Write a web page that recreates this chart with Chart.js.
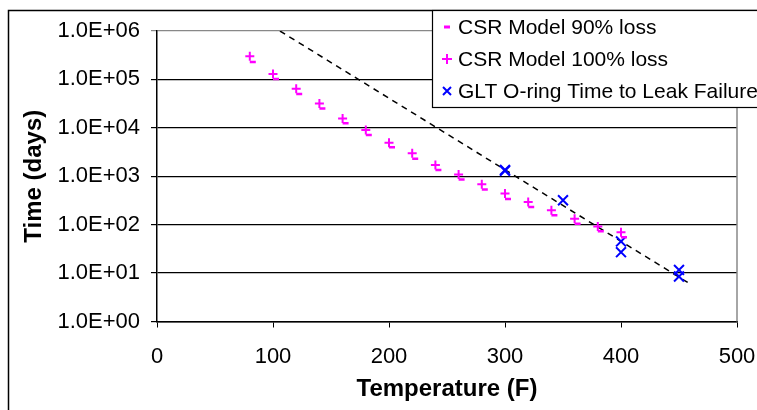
<!DOCTYPE html>
<html>
<head>
<meta charset="utf-8">
<script src="https://cdn.jsdelivr.net/npm/chart.js@4/dist/chart.umd.min.js"></script>
<style>
  html, body { margin: 0; padding: 0; background: #fff; }
  #chart { display: block; }
</style>
</head>
<body>
<canvas id="chart" width="757" height="410"></canvas>
<script>
// Data --------------------
const temps = [80, 100, 120, 140, 160, 180, 200, 220, 240, 260, 280, 300, 320, 340, 360, 380, 400];
const csr90 = [2.3e5, 1.02e5, 5.0e4, 2.5e4, 1.24e4, 7.1e3, 3.96e3, 2.3e3, 1.34e3, 859, 532, 340, 232, 156, 105, 73, 55];
const csr100 = [3.0e5, 1.3e5, 6.4e4, 3.2e4, 1.55e4, 9.0e3, 4.9e3, 2.97e3, 1.7e3, 1.09e3, 686, 440, 294, 198, 133, 92, 70];
const gltTemps = [300, 300, 350, 400, 400, 450, 450];
const gltDays = [1300, 1350, 319, 45, 27, 11.6, 8.5];
const trendTemps = [106, 458];
const trendDays = [1e6, 6.3];
const yTickValues = [1, 10, 100, 1000, 1e4, 1e5, 1e6];
const yTickLabels = ['1.0E+00', '1.0E+01', '1.0E+02', '1.0E+03', '1.0E+04', '1.0E+05', '1.0E+06'];

// Constants --------------------
const FONT = '"Liberation Sans", Arial, sans-serif';
const MAGENTA = '#FF00FF';
const BLUE = '#0000FF';
const PLOT_LEFT = 157;
const PLOT_BOTTOM = 321.5;

const toPoints = (xs, ys) => xs.map((x, i) => ({ x, y: ys[i] }));

// plugins
const frame = {
  id: 'frame',
  afterDraw(chart) {
    const { ctx, chartArea } = chart;
    ctx.save();
    // grey right edge of plot
    ctx.strokeStyle = '#888';
    ctx.lineWidth = 1.5;
    ctx.beginPath();
    ctx.moveTo(chartArea.right, chartArea.top);
    ctx.lineTo(chartArea.right, chartArea.bottom);
    ctx.stroke();
    // outer chart border
    ctx.strokeStyle = '#000';
    ctx.lineWidth = 1.5;
    ctx.strokeRect(8.5, 10.5, 800, 500);
    ctx.restore();
  },
};

const legendBox = {
  id: 'legendBox',
  afterDraw(chart) {
    const { ctx } = chart;
    const items = chart.data.datasets.filter(d => d.legendMark);
    ctx.save();
    ctx.fillStyle = '#fff';
    ctx.fillRect(432, 11, 340, 97);
    ctx.strokeStyle = '#000';
    ctx.lineWidth = 1.2;
    ctx.strokeRect(432.5, 10.5, 340, 97);
    ctx.font = '21px ' + FONT;
    ctx.textBaseline = 'middle';
    items.forEach((d, i) => {
      const y = 27 + i * 32;
      const x = 447;
      ctx.strokeStyle = d.borderColor;
      ctx.lineWidth = 2;
      ctx.beginPath();
      if (d.legendMark === 'dash') {
        ctx.lineWidth = 3;
        ctx.moveTo(x - 3, y);
        ctx.lineTo(x + 3, y);
      } else if (d.legendMark === 'cross') {
        ctx.moveTo(x - 5, y);
        ctx.lineTo(x + 5, y);
        ctx.moveTo(x, y - 5);
        ctx.lineTo(x, y + 5);
      } else {
        ctx.moveTo(x - 4, y - 4);
        ctx.lineTo(x + 4, y + 4);
        ctx.moveTo(x + 4, y - 4);
        ctx.lineTo(x - 4, y + 4);
      }
      ctx.stroke();
      ctx.fillStyle = '#000';
      ctx.fillText(d.label, 458, y + 1);
    });
    ctx.restore();
  },
};

Chart.defaults.font.family = FONT;
Chart.defaults.color = '#000';

new Chart(document.getElementById('chart'), {
  type: 'scatter',
  data: {
    datasets: [
      {
        label: 'CSR Model 90% loss',
        legendMark: 'dash',
        data: toPoints(temps, csr90),
        pointStyle: 'dash',
        pointRadius: 6,
        borderColor: MAGENTA,
        backgroundColor: MAGENTA,
        pointBorderWidth: 2.5,
      },
      {
        label: 'CSR Model 100% loss',
        legendMark: 'cross',
        data: toPoints(temps, csr100),
        pointStyle: 'cross',
        pointRadius: 4.5,
        borderColor: MAGENTA,
        backgroundColor: MAGENTA,
        pointBorderWidth: 2,
      },
      {
        label: 'GLT O-ring Time to Leak Failure',
        legendMark: 'crossRot',
        data: toPoints(gltTemps, gltDays),
        pointStyle: 'crossRot',
        pointRadius: 7,
        borderColor: BLUE,
        backgroundColor: BLUE,
        pointBorderWidth: 2,
      },
      {
        label: 'trend',
        type: 'line',
        data: toPoints(trendTemps, trendDays),
        showLine: true,
        pointRadius: 0,
        borderColor: '#000',
        borderWidth: 1.5,
        borderDash: [6, 5],
        fill: false,
      },
    ],
  },
  options: {
    responsive: false,
    animation: false,
    devicePixelRatio: 1,
    layout: { padding: { left: 18, top: 31, right: 20, bottom: 2 } },
    plugins: {
      legend: { display: false },
      tooltip: { enabled: false },
    },
    scales: {
      x: {
        type: 'linear',
        min: 0,
        max: 500,
        ticks: { stepSize: 100, font: { size: 22 }, padding: 16, color: '#000' },
        grid: { drawOnChartArea: false, drawTicks: true, tickLength: 6, color: '#000' },
        border: { color: '#000', width: 1.5 },
        title: { display: true, text: 'Temperature (F)', font: { size: 24, weight: 'bold' }, color: '#000' },
        afterFit(scale) {
          scale.height = 410 - PLOT_BOTTOM - 2;
          // keep label gap from widening the right margin
          scale.paddingRight = 20;
          scale.paddingLeft = 0;
        },
      },
      y: {
        type: 'logarithmic',
        min: 1,
        max: 1e6,
        afterBuildTicks(scale) {
          scale.ticks = yTickValues.map(value => ({ value }));
        },
        ticks: {
          font: { size: 22 },
          padding: 11,
          color: '#000',
          callback(value) {
            return yTickLabels[yTickValues.indexOf(value)];
          },
        },
        grid: {
          color: ctx => (ctx.tick && ctx.tick.value === 1e6 ? '#888' : '#000'),
          lineWidth: 1.2,
          tickLength: 6,
        },
        border: { color: '#000', width: 1.5 },
        title: { display: true, text: 'Time (days)', font: { size: 24, weight: 'bold' }, color: '#000', padding: { top: 2, bottom: 4 } },
        afterFit(scale) {
          scale.width = PLOT_LEFT - 18;
        },
      },
    },
  },
  plugins: [frame, legendBox],
});
</script>
</body>
</html>
